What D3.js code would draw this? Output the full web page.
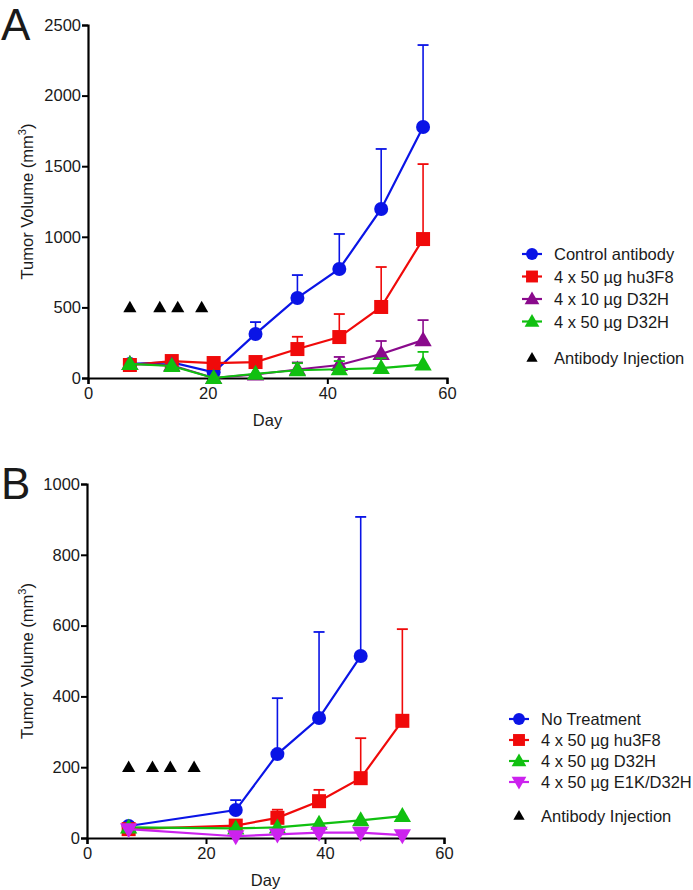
<!DOCTYPE html>
<html>
<head>
<meta charset="utf-8">
<script src="https://cdn.jsdelivr.net/npm/d3@7"></script>
<style>
  body { margin: 0; background: #fff; }
  svg text { font-family: "Liberation Sans", Arial, Helvetica, sans-serif; fill: #1a1a1a; }
</style>
</head>
<body>
<svg id="chart" width="693" height="890"></svg>
<script>
// ---- panel A data ----
var daysA = [7, 14, 21, 28, 35, 42, 49, 56];
var controlA = [100, 110, 40, 312, 567, 772, 1197, 1778];
var controlErrA = [null, null, null, 396, 729, 1020, 1622, 2358];
var hu3f8A = [92, 120, 106, 113, 205, 290, 503, 984];
var hu3f8ErrA = [null, null, null, null, 292, 453, 786, 1515];
var d32h10A = [100, 90, 0, 25, 60, 92, 170, 268];
var d32h10ErrA = [null, null, null, null, 110, 149, 262, 410];
var d32h50A = [100, 85, 0, 30, 55, 62, 70, 95];
var d32h50ErrA = [null, null, null, null, 105, 120, 140, 185];
var injA = [7, 12, 15, 19];
var injLevelA = 500;
var yTicksA = [0, 500, 1000, 1500, 2000, 2500];
var namesA = ["Control antibody", "4 x 50 \u00b5g hu3F8", "4 x 10 \u00b5g D32H", "4 x 50 \u00b5g D32H"];

// ---- panel B data ----
var daysB = [7, 25, 32, 39, 46, 53];
var noTreatB = [34, 79, 237, 339, 514, null];
var noTreatErrB = [null, 107, 395, 582, 907, null];
var hu3f8B = [25, 35, 57, 104, 169, 331];
var hu3f8ErrB = [null, null, 80, 136, 282, 590];
var d32hB = [30, 27, 30, 40, 50, 62];
var d32hErrB = [null, null, null, null, null, null];
var e1kB = [25, 5, 10, 15, 15, 8];
var e1kErrB = [null, null, null, null, null, null];
var injB = [7, 11, 14, 18];
var injLevelB = 200;
var yTicksB = [0, 200, 400, 600, 800, 1000];
var namesB = ["No Treatment", "4 x 50 \u00b5g hu3F8", "4 x 50 \u00b5g D32H", "4 x 50 \u00b5g E1K/D32H"];

var xTicks = [0, 20, 40, 60];

var svg = d3.select("#chart");

function drawPanel(p) {
  var x = d3.scaleLinear().domain([0, 60]).range([p.left, p.right]);
  var y = d3.scaleLinear().domain([0, p.ymax]).range([p.bottom, p.top]);
  var g = svg.append("g");

  // axes
  var xAxis = d3.axisBottom(x).tickValues(xTicks).tickSize(6).tickPadding(3).tickFormat(d3.format("d"));
  var gx = g.append("g").attr("transform", "translate(0," + p.bottom + ")").call(xAxis);
  var yAxis = d3.axisLeft(y).tickValues(p.yTicks).tickSize(6).tickPadding(1).tickFormat(d3.format("d"));
  var gy = g.append("g").attr("transform", "translate(" + p.left + ",0)").call(yAxis);
  [gx, gy].forEach(function(a) {
    a.select(".domain").attr("stroke", "#000").attr("stroke-width", 2.2);
    a.selectAll(".tick line").attr("stroke", "#000").attr("stroke-width", 2);
    a.selectAll(".tick text").style("font-size", "16.5px").attr("fill", "#1a1a1a");
  });

  // axis titles
  g.append("text").attr("x", (p.left + p.right) / 2).attr("y", p.bottom + 48)
    .attr("text-anchor", "middle").style("font-size", "16.5px").text("Day");
  var yt = g.append("text")
    .attr("transform", "translate(33," + ((p.top + p.bottom) / 2) + ") rotate(-90)")
    .attr("text-anchor", "middle").style("font-size", "16.5px");
  yt.append("tspan").text("Tumor Volume (mm");
  yt.append("tspan").attr("dy", -7).style("font-size", "11px").text("3");
  yt.append("tspan").attr("dy", 7).text(")");

  // panel letter
  g.append("text").attr("x", 1).attr("y", p.top + 15).style("font-size", "44px")
    .attr("fill", "#000").text(p.letter);

  var tri = d3.symbol().type(d3.symbolTriangle);

  // series
  p.series.forEach(function(s) {
    var pts = p.days.map(function(d, i) { return { d: d, v: s.values[i], e: s.err[i] }; })
      .filter(function(o) { return o.v != null; });
    // error bars
    pts.filter(function(o) { return o.e != null; }).forEach(function(o) {
      g.append("line").attr("x1", x(o.d)).attr("x2", x(o.d))
        .attr("y1", y(o.v)).attr("y2", y(o.e))
        .attr("stroke", s.color).attr("stroke-width", 1.6);
      g.append("line").attr("x1", x(o.d) - 5.5).attr("x2", x(o.d) + 5.5)
        .attr("y1", y(o.e)).attr("y2", y(o.e))
        .attr("stroke", s.color).attr("stroke-width", 1.8);
    });
    var line = d3.line().x(function(o) { return x(o.d); }).y(function(o) { return y(o.v); });
    g.append("path").attr("d", line(pts)).attr("fill", "none")
      .attr("stroke", s.color).attr("stroke-width", 2.2);
    pts.forEach(function(o) {
      drawMarker(g, s.shape, x(o.d), y(o.v), s.color, 1);
    });
  });

  // injection triangles
  p.inj.forEach(function(d) {
    g.append("path").attr("d", tri.size(75)())
      .attr("transform", "translate(" + x(d) + "," + (y(p.injLevel) + 1) + ")")
      .attr("fill", "#000");
  });

  // legend
  p.series.forEach(function(s, i) {
    var ly = p.legendY + i * p.legendStep;
    g.append("line").attr("x1", p.legendX - 10).attr("x2", p.legendX + 10)
      .attr("y1", ly).attr("y2", ly).attr("stroke", s.color).attr("stroke-width", 2.2);
    drawMarker(g, s.shape, p.legendX, ly, s.color, 0.85);
    g.append("text").attr("x", p.legendX + 22).attr("y", ly + 6)
      .style("font-size", "16.5px").text(s.name);
  });
  var ay = p.legendY + 3 * p.legendStep + p.legendStep * 1.6;
  g.append("path").attr("d", tri.size(55)())
    .attr("transform", "translate(" + p.legendX + "," + (ay + 1) + ")").attr("fill", "#000");
  g.append("text").attr("x", p.legendX + 22).attr("y", ay + 6)
    .style("font-size", "16.5px").text("Antibody Injection");
}

function drawMarker(g, shape, cx, cy, color, k) {
  if (shape === "circle") {
    g.append("circle").attr("cx", cx).attr("cy", cy).attr("r", 7 * k).attr("fill", color);
  } else if (shape === "square") {
    var h = 7 * k;
    g.append("rect").attr("x", cx - h).attr("y", cy - h).attr("width", 2 * h).attr("height", 2 * h)
      .attr("fill", color);
  } else if (shape === "tri") {
    g.append("path").attr("d", d3.symbol().type(d3.symbolTriangle).size(130 * k * k)())
      .attr("transform", "translate(" + cx + "," + (cy + 1) + ")").attr("fill", color);
  } else if (shape === "down") {
    g.append("path").attr("d", d3.symbol().type(d3.symbolTriangle).size(130 * k * k)())
      .attr("transform", "translate(" + cx + "," + (cy - 1) + ") rotate(180)").attr("fill", color);
  }
}

drawPanel({
  letter: "A", left: 88, right: 447, top: 25, bottom: 378, ymax: 2500,
  yTicks: yTicksA, days: daysA, inj: injA, injLevel: injLevelA,
  legendX: 532, legendY: 254, legendStep: 22.5,
  series: [
    { name: namesA[0], values: controlA, err: controlErrA, color: "#0a14e6", shape: "circle" },
    { name: namesA[1], values: hu3f8A, err: hu3f8ErrA, color: "#f00a0a", shape: "square" },
    { name: namesA[2], values: d32h10A, err: d32h10ErrA, color: "#8a0a8c", shape: "tri" },
    { name: namesA[3], values: d32h50A, err: d32h50ErrA, color: "#10c010", shape: "tri" }
  ]
});

drawPanel({
  letter: "B", left: 87, right: 444, top: 484, bottom: 838, ymax: 1000,
  yTicks: yTicksB, days: daysB, inj: injB, injLevel: injLevelB,
  legendX: 519, legendY: 719, legendStep: 21,
  series: [
    { name: namesB[0], values: noTreatB, err: noTreatErrB, color: "#0a14e6", shape: "circle" },
    { name: namesB[1], values: hu3f8B, err: hu3f8ErrB, color: "#f00a0a", shape: "square" },
    { name: namesB[2], values: d32hB, err: d32hErrB, color: "#10c010", shape: "tri" },
    { name: namesB[3], values: e1kB, err: e1kErrB, color: "#cc22ee", shape: "down" }
  ]
});
</script>
</body>
</html>
